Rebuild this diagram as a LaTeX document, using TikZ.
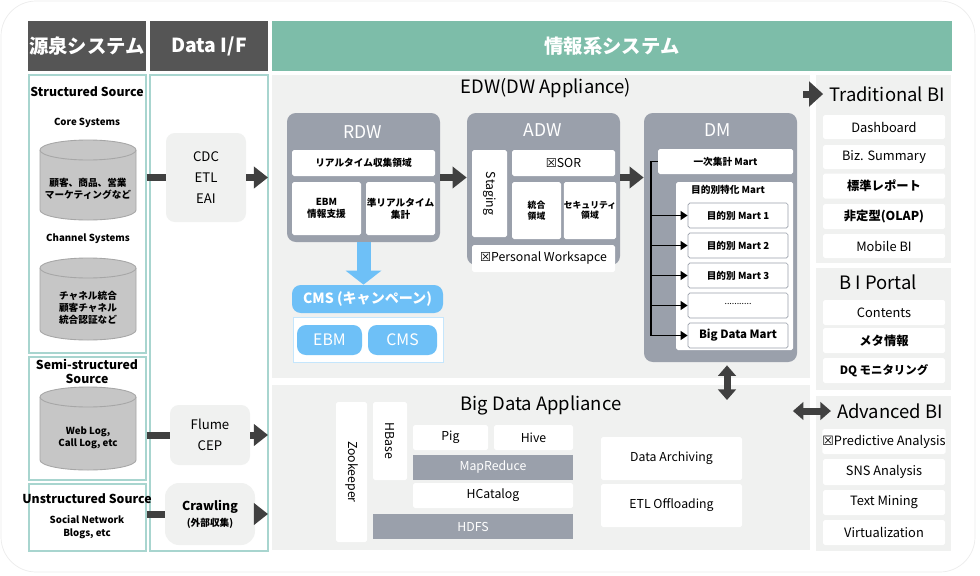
\documentclass[tikz,border=0pt]{standalone}
\usepackage{fontspec}
\setmainfont{Noto Sans CJK JP}
\newfontfamily\symfont{DejaVu Sans}
\usetikzlibrary{arrows.meta}
\definecolor{hdgray}{HTML}{555555}
\definecolor{teal}{HTML}{7DBDA9}
\definecolor{panel}{HTML}{F0F1F0}
\definecolor{slate}{HTML}{9AA0AB}
\definecolor{sky}{HTML}{6EC0F7}
\definecolor{ink}{HTML}{404040}
\definecolor{edge}{HTML}{A8D5CF}
\newcommand{\xbox}{{\symfont\char"2612}}
\tikzset{
  sz/.style 2 args={minimum width=#1*0.02cm, minimum height=#2*0.02cm},
  hd/.style={fill=hdgray, text=white, font=\bfseries\fontsize{11}{12}\selectfont, inner sep=0},
  col/.style={draw=edge, fill=white, line width=0.6pt, inner sep=0},
  pnl/.style={fill=panel, inner sep=0},
  grp/.style={fill=slate, rounded corners=5pt, inner sep=0},
  bx/.style={fill=white, rounded corners=1pt, inner sep=0, align=center, font=\fontsize{6}{7}\selectfont},
  gbx/.style={fill=panel, rounded corners=5pt, inner sep=0, align=center, font=\fontsize{7}{10}\selectfont},
  sbx/.style={fill=slate, text=white, inner sep=0, font=\fontsize{7}{8}\selectfont},
  mart/.style={draw=slate, fill=white, rounded corners=1pt, inner sep=0, font=\bfseries\fontsize{5.5}{6}\selectfont},
  item/.style={fill=white, rounded corners=1pt, inner sep=0, font=\fontsize{7.3}{8}\selectfont},
  ttl/.style={font=\fontsize{10.5}{11}\selectfont},
  fat/.style={draw=ink, line width=7*0.02cm},
  fatarr/.style={fat, -{Triangle[length=8pt, width=12pt]}},
  dblarr/.style={fat, {Triangle[length=6pt, width=10pt]}-{Triangle[length=6pt, width=10pt]}},
  cylf/.style={fill=gray!45, draw=gray!70, line width=0.5pt},
}
\begin{document}
\begin{tikzpicture}[x=0.02cm, y=-0.02cm]
  \useasboundingbox (0,0) rectangle (980,575);
  \draw[gray!15, rounded corners=20pt, fill=white] (1,1) rectangle (975,572);

  % headers
  \node[hd, sz={118}{50}] (hsrc) at (87,46) {源泉システム};
  \node[hd, sz={118}{50}] (hif) at (209,46) {Data I/F};
  \node[hd, fill=teal, sz={680}{50}] (hinfo) at (612,46) {情報系システム};

  % source column
  \node[col, sz={117}{278}] (ss) at (87.5,214) {};
  \node[col, sz={117}{123}] (semi) at (87.5,418.5) {};
  \node[col, sz={117}{67}] (uns) at (87.5,517.5) {};
  \node[col, sz={118}{476}] (dif) at (209,313) {};

  \node[font=\bfseries\fontsize{7}{8}\selectfont] (sst) at (87,92) {Structured Source};
  \node[font=\bfseries\fontsize{5.5}{6}\selectfont] (core) at (87,123) {Core Systems};
  \draw[cylf] (40,150) -- (40,210) arc[start angle=180, end angle=0, x radius=48, y radius=10] -- (136,150);
  \draw[cylf] (88,150) ellipse[x radius=48, y radius=10];
  \node[align=center, font=\bfseries\fontsize{5.5}{7}\selectfont] (coredb) at (88,189) {顧客、商品、営業\\マーケティングなど};
  \node[font=\bfseries\fontsize{5.5}{6}\selectfont] (chan) at (88,239) {Channel Systems};
  \draw[cylf] (40,268) -- (40,330) arc[start angle=180, end angle=0, x radius=48, y radius=10] -- (136,268);
  \draw[cylf] (88,268) ellipse[x radius=48, y radius=10];
  \node[align=center, font=\bfseries\fontsize{5.5}{7}\selectfont] (chandb) at (88,308) {チャネル統合\\顧客チャネル\\統合認証など};

  \node[align=center, font=\bfseries\fontsize{7}{8}\selectfont] (semit) at (87,371) {Semi-structured\\Source};
  \draw[cylf] (40,397) -- (40,460) arc[start angle=180, end angle=0, x radius=48, y radius=10] -- (136,397);
  \draw[cylf] (88,397) ellipse[x radius=48, y radius=10];
  \node[align=center, font=\bfseries\fontsize{5.5}{7}\selectfont] (semidb) at (88,438) {Web Log,\\Call Log, etc};

  \node[font=\bfseries\fontsize{7}{8}\selectfont] (unst) at (87,499) {Unstructured Source};
  \node[align=center, font=\bfseries\fontsize{5.5}{7}\selectfont] (unsd) at (87,527) {Social Network\\Blogs, etc};

  % data i/f
  \node[gbx, sz={80}{89}, font=\fontsize{7.5}{12}\selectfont] (cdc) at (206,177.5) {CDC\\ETL\\EAI};
  \node[gbx, sz={80}{60}, font=\fontsize{7.5}{12}\selectfont] (flume) at (210,435) {Flume\\CEP};
  \node[gbx, sz={90}{62}, rounded corners=8pt] (crawl) at (210,514) {\textbf{Crawling}\\[-1pt]{\fontsize{5.5}{6}\selectfont\bfseries (外部収集)}};
  \coordinate (ifr) at (268,0);

  \draw[fat] (ss.east |- cdc) -- (cdc.west);
  \draw[fatarr] (cdc.east) -- (cdc.east -| ifr);
  \draw[fat] (ss.east |- flume) -- (flume.west);
  \draw[fatarr] (flume.east) -- (flume.east -| ifr);
  \draw[fat] (uns.east |- crawl) -- (crawl.west);
  \draw[fatarr] (crawl.east) -- (crawl.east -| ifr);

  % panels
  \node[pnl, sz={538}{303}] (edw) at (541,226.5) {};
  \node[pnl, sz={538}{165}] (bda) at (541,467.5) {};
  \node[ttl] (edwt) at (546,88) {EDW(DW Appliance)};
  \node[ttl] (bdat) at (541,405) {Big Data Appliance};

  % RDW
  \node[grp, sz={153}{129}] (rdw) at (363.5,177.5) {};
  \node[text=white, font=\fontsize{10}{11}\selectfont] (rdwt) at (363,132) {RDW};
  \node[bx, sz={143}{26}, font=\bfseries\fontsize{5.5}{6}\selectfont] (rtcol) at (363.5,163) {リアルタイム収集領域};
  \node[bx, sz={69}{53}, font=\bfseries\fontsize{5.5}{7}\selectfont] (ebmi) at (326.5,208.5) {EBM\\情報支援};
  \node[bx, sz={69}{53}, font=\bfseries\fontsize{5.5}{7}\selectfont] (nrt) at (400.5,208.5) {準リアルタイム\\集計};

  % CMS
  \node[fill=sky, rounded corners=5pt, text=white, inner sep=0, sz={151}{28}, font=\bfseries\fontsize{8}{9}\selectfont] (cms) at (367.5,299) {CMS (キャンペーン)};
  \node[draw=sky!40, fill=white, inner sep=0, sz={150}{45}] (cmsb) at (368,339.5) {};
  \node[fill=sky, rounded corners=5pt, text=white, inner sep=0, sz={65}{30}, font=\fontsize{9}{10}\selectfont] (ebm) at (329.5,340) {EBM};
  \node[fill=sky, rounded corners=5pt, text=white, inner sep=0, sz={69}{30}, font=\fontsize{9}{10}\selectfont] (cmsc) at (402.5,340) {CMS};
  \draw[draw=sky, line width=14*0.02cm, -{Triangle[length=8pt, width=20pt]}] (rdw.south) -- (rdw.south |- cms.north);

  % ADW
  \node[grp, sz={153}{152}] (adw) at (543.5,189) {};
  \node[text=white, font=\fontsize{10}{11}\selectfont] (adwt) at (543,130) {ADW};
  \node[bx, sz={35}{87}, font=\fontsize{7}{8}\selectfont] (stg) at (489.5,193.5) {\rotatebox{-90}{Staging}};
  \node[bx, sz={103}{26}, font=\fontsize{7}{8}\selectfont] (sor) at (563.5,163) {\xbox SOR};
  \node[bx, sz={49}{57}, font=\bfseries\fontsize{5}{6}\selectfont] (int) at (536.5,210.5) {統合\\領域};
  \node[bx, sz={50}{57}, font=\bfseries\fontsize{5}{6}\selectfont] (sec) at (590,210.5) {セキュリティ\\領域};
  \node[bx, sz={143}{27}, font=\fontsize{7}{8}\selectfont] (pws) at (543.5,258.5) {\xbox Personal Worksapce};

  % DM
  \node[grp, sz={153}{249}] (dm) at (720.5,237.5) {};
  \node[text=white, font=\fontsize{10}{11}\selectfont] (dmt) at (718,130) {DM};
  \node[bx, sz={135}{25}, font=\bfseries\fontsize{5.5}{6}\selectfont] (m1st) at (725.5,161.5) {一次集計 Mart};
  \node[bx, sz={117}{168}] (mspec) at (734.5,266) {};
  \node[font=\bfseries\fontsize{5.5}{6}\selectfont] (mspect) at (728,190) {目的別特化 Mart};
  \node[mart, sz={100}{25}] (ma) at (738,215.5) {目的別 Mart 1};
  \node[mart, sz={100}{25}] (mb) at (738,245.5) {目的別 Mart 2};
  \node[mart, sz={100}{25}] (mc) at (738,275.5) {目的別 Mart 3};
  \node[mart, sz={100}{25}, font=\fontsize{5}{6}\selectfont] (md) at (738,305.5) {\raisebox{2pt}{...........}};
  \node[mart, sz={100}{25}, font=\bfseries\fontsize{6.5}{7}\selectfont] (mbig) at (738,335.5) {Big Data Mart};
  \coordinate (bus) at (651,0);
  \draw[line width=1pt] (m1st.west) -- (m1st.west -| bus) -- (mbig.west -| bus);
  \foreach \m in {ma,mb,mc,md,mbig}
    \draw[line width=1pt, -{Triangle[length=4pt, width=5pt]}] (\m.west -| bus) -- (\m.west);

  \draw[fatarr] (rdw.east |- cdc) -- (adw.west |- cdc);
  \draw[fatarr] (adw.east |- cdc) -- (dm.west |- cdc);
  \draw[dblarr] (dm.south -| 727,0) ++(0,3) coordinate (dmb) (dmb) -- (727,400);

  % big data
  \node[bx, sz={31}{140}, font=\fontsize{7}{8}\selectfont] (zoo) at (351.5,472) {\rotatebox{-90}{Zookeeper}};
  \node[bx, sz={34}{78}, font=\fontsize{7}{8}\selectfont] (hbase) at (390,441) {\rotatebox{-90}{HBase}};
  \node[bx, sz={75}{25}, font=\fontsize{7}{8}\selectfont] (pig) at (450.5,437.5) {Pig};
  \node[bx, sz={79}{25}, font=\fontsize{7}{8}\selectfont] (hive) at (533.5,437.5) {Hive};
  \node[sbx, sz={160}{25}] (mr) at (493,467.5) {MapReduce};
  \node[bx, sz={160}{25}, font=\fontsize{7}{8}\selectfont] (hcat) at (493,495.5) {HCatalog};
  \node[sbx, sz={200}{25}] (hdfs) at (473,526.5) {HDFS};
  \node[bx, sz={141}{43}, font=\fontsize{7}{8}\selectfont] (arch) at (671.5,458.5) {Data Archiving};
  \node[bx, sz={141}{43}, font=\fontsize{7}{8}\selectfont] (etlo) at (671.5,505.5) {ETL Offloading};

  % BI
  \node[pnl, sz={135}{188}] (tbi) at (883.5,169) {};
  \node[pnl, sz={135}{122}] (pbi) at (883.5,329) {};
  \node[pnl, sz={135}{155}] (abi) at (883.5,473.5) {};
  \node[ttl] (tbit) at (887,94) {Traditional BI};
  \node[ttl] (pbit) at (878,282) {B I Portal};
  \node[ttl] (abit) at (890,411) {Advanced BI};
  \node[item, sz={122}{24}] (dash) at (884,127) {Dashboard};
  \node[item, sz={122}{24}] (biz) at (884,157) {Biz. Summary};
  \node[item, sz={122}{25}, font=\bfseries\fontsize{7}{8}\selectfont] (std) at (884,186) {標準レポート};
  \node[item, sz={122}{25}, font=\bfseries\fontsize{7}{8}\selectfont] (olap) at (884,216.5) {非定型(OLAP)};
  \node[item, sz={122}{24}] (mob) at (884,246) {Mobile BI};
  \node[item, sz={122}{25}] (cont) at (884,312.5) {Contents};
  \node[item, sz={122}{25}, font=\bfseries\fontsize{7}{8}\selectfont] (meta) at (884,340.5) {メタ情報};
  \node[item, sz={122}{25}, font=\bfseries\fontsize{6.5}{8}\selectfont] (dq) at (884,370.5) {DQ モニタリング};
  \node[item, sz={122}{25}] (pred) at (884,441.5) {\xbox Predictive Analysis};
  \node[item, sz={122}{26}] (sns) at (884,472) {SNS Analysis};
  \node[item, sz={122}{25}] (txt) at (884,502.5) {Text Mining};
  \node[item, sz={122}{25}] (virt) at (884,532.5) {Virtualization};

  \draw[fat, -{Triangle[length=8pt, width=14pt]}] (tbit.west) ++(-20,0) coordinate (tbia) (tbia) -- (tbit.west);
  \draw[dblarr] (abit.west) ++(-38,0) coordinate (abia) (abia) -- (abit.west);
\end{tikzpicture}
\end{document}
